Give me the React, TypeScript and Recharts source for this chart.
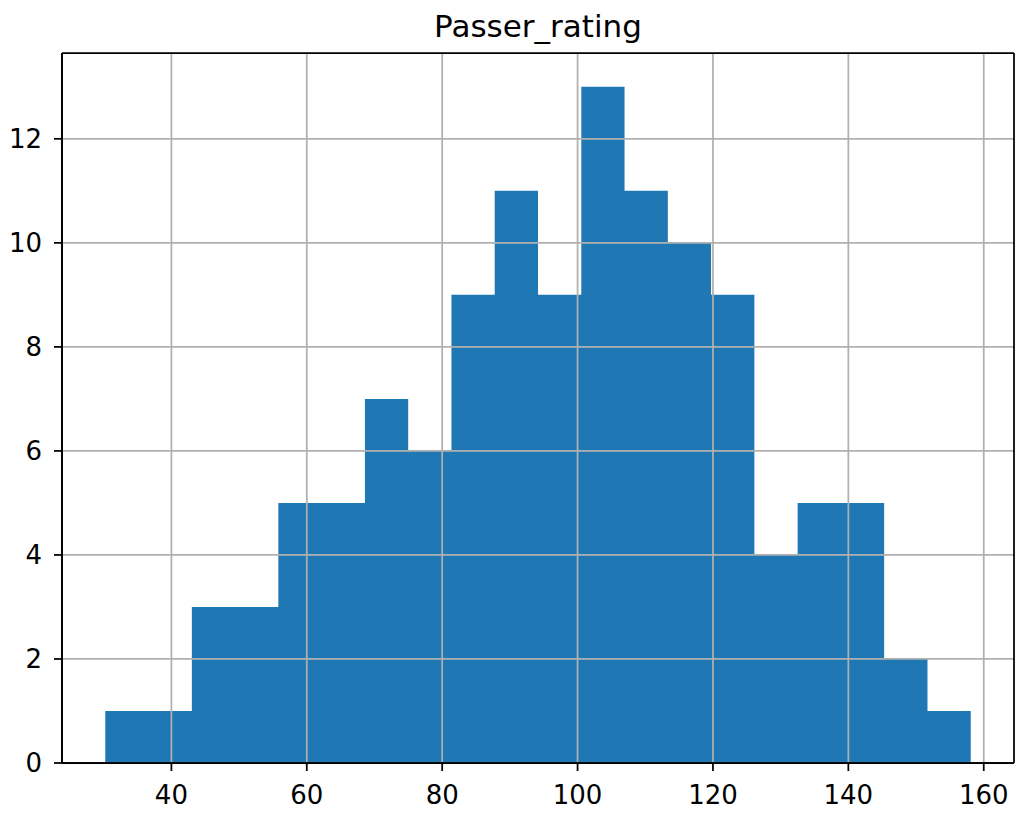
import React from "react";
import { ComposedChart, Area, XAxis, YAxis, ReferenceLine } from "recharts";

const binEdges = [30.23, 36.62, 43.02, 49.41, 55.8, 62.19, 68.59, 74.98, 81.37, 87.76, 94.16, 100.55, 106.94, 113.33, 119.72, 126.12, 132.51, 138.9, 145.29, 151.69, 158.08];
const binCounts = [1, 1, 3, 3, 5, 5, 7, 6, 9, 11, 9, 13, 11, 10, 9, 4, 5, 5, 2, 1];
const xTicks = [40, 60, 80, 100, 120, 140, 160];
const yTicks = [0, 2, 4, 6, 8, 10, 12];
const xDomain: [number, number] = [23.84, 164.47];
const yDomain: [number, number] = [0, 13.65];
const title = "Passer_rating";

const data = binEdges.map((e, i) => ({
  x: e,
  count: i < binCounts.length ? binCounts[i] : binCounts[binCounts.length - 1],
}));

const FONT = "DejaVu Sans, sans-serif";
const W = 1016;
const H = 816;

export default function App() {
  return (
    <div style={{ position: "absolute", left: 0, top: 0, width: W, height: H, background: "#fff" }}>
      <ComposedChart
        width={W}
        height={H}
        data={data}
        margin={{ top: 53, right: 2, bottom: 0, left: 0 }}
      >
        <XAxis
          dataKey="x"
          type="number"
          domain={xDomain}
          ticks={xTicks}
          allowDataOverflow
          height={53}
          tickSize={8}
          tickMargin={15}
          axisLine={{ stroke: "#000", strokeWidth: 1.75 }}
          tickLine={{ stroke: "#000", strokeWidth: 1.75 }}
          tick={{ fill: "#000", fontSize: 26, fontFamily: FONT }}
        />
        <YAxis
          type="number"
          domain={yDomain}
          ticks={yTicks}
          allowDataOverflow
          width={62}
          tickSize={8}
          tickMargin={12}
          axisLine={{ stroke: "#000", strokeWidth: 1.75 }}
          tickLine={{ stroke: "#000", strokeWidth: 1.75 }}
          tick={{ fill: "#000", fontSize: 26, fontFamily: FONT }}
        />
        <Area
          dataKey="count"
          type="stepAfter"
          fill="#1f77b4"
          fillOpacity={1}
          stroke="none"
          isAnimationActive={false}
          dot={false}
          activeDot={false}
        />
        {xTicks.map((t) => (
          <ReferenceLine key={"gx" + t} x={t} stroke="#b0b0b0" strokeWidth={1.75} />
        ))}
        {yTicks.map((t) => (
          <ReferenceLine key={"gy" + t} y={t} stroke="#b0b0b0" strokeWidth={1.75} />
        ))}
        <ReferenceLine y={yDomain[1]} stroke="#000" strokeWidth={1.75} />
        <ReferenceLine x={xDomain[1]} stroke="#000" strokeWidth={1.75} />
        <ReferenceLine y={0} stroke="#000" strokeWidth={1.75} />
        <ReferenceLine x={xDomain[0]} stroke="#000" strokeWidth={1.75} />
      </ComposedChart>
      <svg
        width={W}
        height={50}
        style={{ position: "absolute", left: 0, top: 0, pointerEvents: "none" }}
      >
        <text x={538} y={36.7} textAnchor="middle" fontSize={31} fontFamily={FONT} fill="#000">
          {title}
        </text>
      </svg>
    </div>
  );
}
